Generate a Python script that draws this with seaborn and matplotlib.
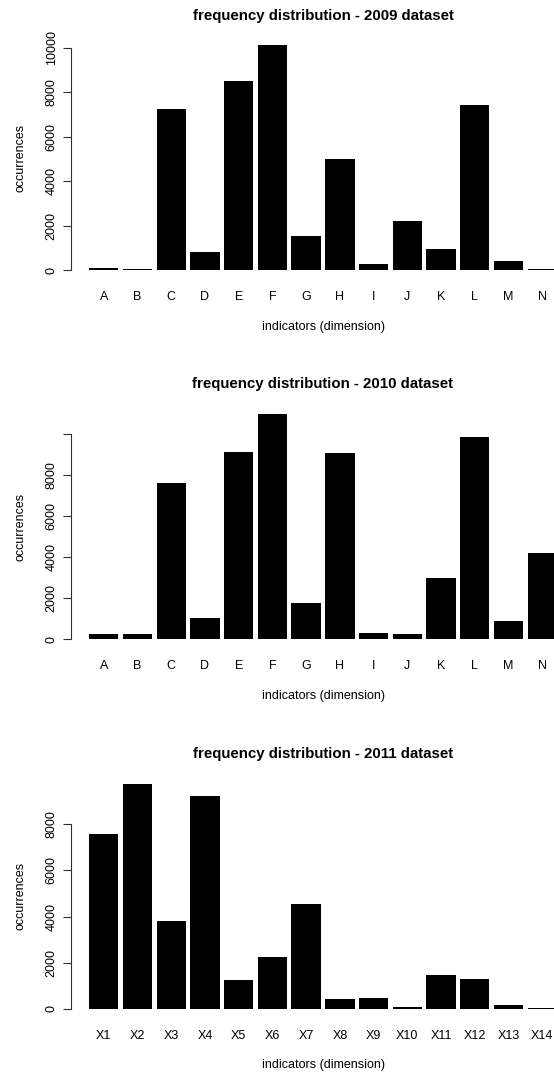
import seaborn as sns
import matplotlib.pyplot as plt
import numpy as np

# Dữ liệu (số lần xuất hiện của từng chỉ số)
letters = ['A', 'B', 'C', 'D', 'E', 'F', 'G', 'H', 'I', 'J', 'K', 'L', 'M', 'N']
counts_2009 = [90, 45, 7270, 825, 8530, 10120, 1560, 5020, 285, 2200, 945, 7450, 435, 45]
counts_2010 = [243, 243, 7630, 1020, 9120, 10970, 1750, 9080, 290, 243, 2970, 9870, 910, 4220]
xnames_2011 = ['X1', 'X2', 'X3', 'X4', 'X5', 'X6', 'X7', 'X8', 'X9', 'X10', 'X11', 'X12', 'X13', 'X14']
counts_2011 = [7600, 9750, 3790, 9250, 1230, 2230, 4560, 435, 478, 58, 1460, 1300, 145, 43]

ticks_2009 = [0, 2000, 4000, 6000, 8000, 10000]
ticklabels_2009 = ['0', '2000', '4000', '6000', '8000', '10000']
ticks_2010 = [0, 2000, 4000, 6000, 8000, 10000]
ticklabels_2010 = ['0', '2000', '4000', '6000', '8000', '']
ticks_2011 = [0, 2000, 4000, 6000, 8000]
ticklabels_2011 = ['0', '2000', '4000', '6000', '8000']

titles = ['frequency distribution - 2009 dataset',
          'frequency distribution - 2010 dataset',
          'frequency distribution - 2011 dataset']

sns.set_style('white')
plt.rcParams['font.family'] = ['Liberation Sans', 'DejaVu Sans']
plt.rcParams['text.color'] = 'black'
plt.rcParams['xtick.color'] = 'black'
plt.rcParams['ytick.color'] = 'black'

W, H = 554, 1074
fig = plt.figure(figsize=(W / 100, H / 100), dpi=100)

# vị trí vùng vẽ (pixel tính từ trên xuống): top, bottom
boxes = [(36.3, 279.3), (405.0, 648.3), (775.0, 1017.7)]
ax_left, ax_right = 71, 575

panels = [
    (letters, counts_2009, ticks_2009, ticklabels_2009),
    (letters, counts_2010, ticks_2010, ticklabels_2010),
    (xnames_2011, counts_2011, ticks_2011, ticklabels_2011),
]

for (names, counts, ticks, tlabels), (top, bottom), title in zip(panels, boxes, titles):
    ax = fig.add_axes([ax_left / W, 1 - bottom / H, (ax_right - ax_left) / W, (bottom - top) / H])
    sns.barplot(x=names, y=counts, ax=ax, color='black', saturation=1,
                width=0.87, edgecolor='none')
    ymax = max(counts)
    ax.set_ylim(-0.04 * ymax, 1.04 * ymax)
    ax.set_xlim(-0.97, 13.97)

    for s in ['top', 'right', 'bottom']:
        ax.spines[s].set_visible(False)
    ax.spines['left'].set_bounds(ticks[0], ticks[-1])
    ax.spines['left'].set_linewidth(0.8)
    ax.spines['left'].set_color('#333333')

    ax.set_yticks(ticks)
    ax.set_yticklabels(tlabels)
    ax.tick_params(axis='y', left=True, length=6, width=0.8, color='#333333',
                   labelsize=9, pad=3.5)
    plt.setp(ax.get_yticklabels(), rotation=90, va='center')
    ax.tick_params(axis='x', bottom=False, labelsize=9, pad=5)
    ax.set_xlabel('')
    ax.set_ylabel('')

    # tiêu đề và nhãn trục
    fig.text(323 / W, 1 - (top - 20.6) / H, title, ha='center', va='center',
             fontsize=10.8, fontweight='bold')
    fig.text(323 / W, 1 - (bottom + 47.5) / H, 'indicators (dimension)',
             ha='center', va='center', fontsize=9)
    fig.text(20 / W, 1 - ((top + bottom) / 2) / H, 'occurrences',
             ha='center', va='center', rotation=90, fontsize=9)

fig.savefig('out.png', dpi=100)
